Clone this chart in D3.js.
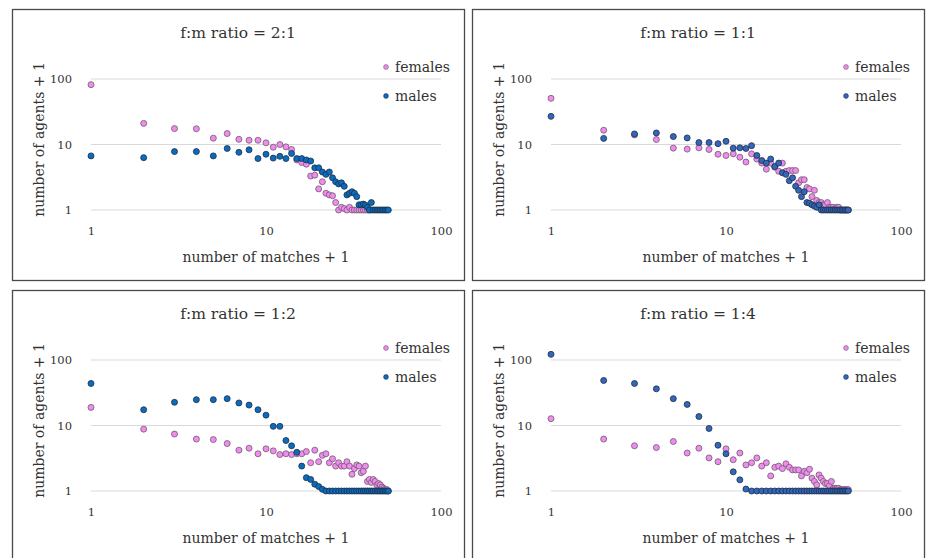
<!DOCTYPE html>
<html>
<head>
<meta charset="utf-8">
<script src="https://cdn.jsdelivr.net/npm/d3@7"></script>
<style>
  body { margin: 0; background: #fff; }
  svg { display: block; }
</style>
</head>
<body>
<svg id="chart" width="932" height="558"></svg>
<script>
// x values: number of matches + 1
const matches = [1,2,3,4,5,6,7,8,9,10,11,12,13,14,15,16,17,18,19,20,
  21,22,23,24,25,26,27,28,29,30,31,32,33,34,35,36,37,38,39,40,
  41,42,43,44,45,46,47,48,49,50]
const xTicks = [1, 10, 100]
const yTicks = [1, 10, 100]
const titles = ["f:m ratio = 2:1", "f:m ratio = 1:1", "f:m ratio = 1:2", "f:m ratio = 1:4"]
const seriesNames = ["females", "males"]

// number of agents + 1
const females21 = [82,21,17.5,17.4,12.5,14.7,12,11.6,11.6,10.6,
  9.1,10.0,9.2,8.4,5.8,5.3,5.0,3.3,3.4,2.1,
  2.7,1.8,1.7,1.65,1.3,1.0,1.1,1.05,1.0,1.1,
  1,1,1,1,1,1,1,1,1,1,
  null,null,null,null,null,null,null,null,null,null]
const males21 = [6.7,6.3,7.8,7.8,6.7,8.7,7.6,8.3,6.1,7.1,
  6.2,6.6,6.1,7.3,6.1,6.1,5.8,5.6,4.4,4.4,
  3.8,3.5,3.8,3.1,2.7,2.5,2.6,2.3,1.7,1.8,
  1.9,1.8,1.6,1.2,1.2,1.23,1.19,1.1,1.0,1.3,
  1,1,1,1,1,1,1,1,1,1]

const females11 = [50.7,16.5,14,11.9,8.8,8.5,8.9,8.4,7.1,6.8,
  7.2,6.4,5.4,7.2,6.0,5.2,4.2,5.2,4.5,3.9,
  5.2,3.9,4.0,4.0,4.0,2.6,2.9,2.9,2.2,2.1,
  1.6,2.0,1.4,1.3,1.3,1.2,1.2,1.3,1.1,1.1,
  1.1,1.05,1.1,1.1,1,1,1,1,1,1]
const males11 = [26.9,12.4,14.5,15,13.2,12.6,10.7,10.7,10.3,11.2,
  8.8,8.9,8.7,9.6,6.8,5.7,5.2,6.0,4.6,5.2,
  3.7,3.5,2.8,3.1,2.3,2.0,1.6,1.9,1.3,1.27,
  1.2,1.15,1.1,1.2,1,1,1,1,1,1,
  1,1,1,1,1,1,1,1,1,1]

const females12 = [18.9,8.8,7.4,6.2,6.1,5.3,4.2,4.5,3.7,4.4,
  4.1,3.6,3.7,3.6,3.7,3.7,4.0,2.7,4.2,2.8,
  3.5,3.7,2.7,3.1,2.4,2.7,2.4,2.4,2.8,2.4,
  1.8,2.2,2.5,2.4,1.9,2.0,2.4,1.4,1.5,1.35,
  1.5,1.4,1.24,1.3,1.24,1.15,1.1,1.06,1.05,1.0]
const males12 = [43.8,17.4,22.6,24.8,24.8,25.7,22.1,20.5,17.4,14.4,
  9.7,9.7,5.9,4.9,3.9,2.4,1.6,1.5,1.27,1.17,
  1.06,1,1,1,1,1,1,1,1,1,
  1,1,1,1,1,1,1,1,1,1,
  1,1,1,1,1,1,1,1,1,1]

const females14 = [12.7,6.2,4.9,4.6,5.7,3.8,4.5,3.2,2.8,4.4,
  3.0,3.8,2.5,2.7,3.2,2.4,2.7,1.7,2.3,2.4,
  2.2,2.6,2.3,2.1,2.1,2.1,1.7,2.0,1.9,2.15,
  1.57,1.4,1.24,1.76,1.57,1.4,1.3,1.3,1.2,1.4,
  1.1,1.1,1.1,1.1,1.05,1.05,1.05,1.05,1.05,1.05]
const males14 = [122,48.7,43.8,36.3,25.7,21.0,13.7,9.0,5.0,3.7,
  1.96,1.48,1.07,1,1,1,1,1,1,1,
  1,1,1,1,1,1,1,1,1,1,
  1,1,1,1,1,1,1,1,1,1,
  1,1,1,1,1,1,1,1,1,1]

const panels = [
  { title: titles[0], f: females21, m: males21, left: 12, top: 9, maleFill: "#0b6bbd" },
  { title: titles[1], f: females11, m: males11, left: 472, top: 9, maleFill: "#3466bb" },
  { title: titles[2], f: females12, m: males12, left: 12, top: 290, maleFill: "#0b6bbd" },
  { title: titles[3], f: females14, m: males14, left: 472, top: 290, maleFill: "#3466bb" }
]

const font = "'DejaVu Serif', serif"
const textColor = "#333"
const femaleFill = "#f08cee"
const panelW = 452, panelH = 271

const svg = d3.select("#chart")

const x = d3.scaleLog().domain([1, 100]).range([79, 429])
const y = d3.scaleLog().domain([1, 100]).range([201, 70])

function drawPanel (p) {
  const g = svg.append("g").attr("transform", `translate(${p.left},${p.top})`)

  g.append("rect")
    .attr("x", 0.5).attr("y", 0.5)
    .attr("width", panelW).attr("height", panelH)
    .attr("fill", "#fff")
    .attr("stroke", "#4a4a4a")
    .attr("stroke-width", 1.3)

  g.append("text")
    .attr("x", panelW / 2).attr("y", 29)
    .attr("text-anchor", "middle")
    .attr("font-family", font).attr("font-size", "15.5px")
    .attr("fill", textColor)
    .text(p.title)

  // horizontal gridlines
  g.selectAll(".grid").data(yTicks).enter().append("line")
    .attr("x1", x.range()[0]).attr("x2", x.range()[1])
    .attr("y1", d => y(d)).attr("y2", d => y(d))
    .attr("stroke", "#d9d9d9").attr("stroke-width", 1)

  // axes (labels only)
  const yAxis = g.append("g").attr("transform", `translate(${x.range()[0] - 16},0)`)
    .call(d3.axisLeft(y).tickValues(yTicks).tickFormat(d3.format("d")).tickSize(0))
  const xAxis = g.append("g").attr("transform", `translate(0,${y.range()[0] + 14})`)
    .call(d3.axisBottom(x).tickValues(xTicks).tickFormat(d3.format("d")).tickSize(0))
  for (const ax of [yAxis, xAxis]) {
    ax.select(".domain").remove()
    ax.selectAll("text")
      .attr("font-family", font).attr("font-size", "11.5px")
      .attr("fill", textColor)
  }

  g.append("text")
    .attr("x", (x.range()[0] + x.range()[1]) / 2).attr("y", 253)
    .attr("text-anchor", "middle")
    .attr("font-family", font).attr("font-size", "14px")
    .attr("fill", textColor)
    .text("number of matches + 1")

  g.append("text")
    .attr("transform", `translate(32,${(y.range()[0] + y.range()[1]) / 2 - 5}) rotate(-90)`)
    .attr("text-anchor", "middle")
    .attr("font-family", font).attr("font-size", "14px")
    .attr("fill", textColor)
    .text("number of agents + 1")

  // points: females first, males drawn on top
  const series = [
    { values: p.f, fill: femaleFill, stroke: "#6f5a6f" },
    { values: p.m, fill: p.maleFill, stroke: "#1d2f48" }
  ]
  series.forEach(s => {
    const pts = matches.map((d, i) => ({ x: d, y: s.values[i] })).filter(d => d.y != null)
    g.append("g").selectAll("circle").data(pts).enter().append("circle")
      .attr("cx", d => x(d.x))
      .attr("cy", d => y(d.y))
      .attr("r", 3)
      .attr("fill", s.fill)
      .attr("stroke", s.stroke)
      .attr("stroke-width", 0.8)
  })

  // legend
  const legend = g.append("g").attr("transform", "translate(374,58)")
  seriesNames.forEach((name, i) => {
    const row = legend.append("g").attr("transform", `translate(0,${i * 29})`)
    row.append("circle").attr("r", 2.4)
      .attr("fill", i === 0 ? femaleFill : p.maleFill)
      .attr("stroke", i === 0 ? "#6f5a6f" : "#1d2f48").attr("stroke-width", 0.6)
    row.append("text").attr("x", 9).attr("y", 4.5)
      .attr("font-family", font).attr("font-size", "14px")
      .attr("fill", textColor)
      .text(name)
  })
}

panels.forEach(drawPanel)
</script>
</body>
</html>
